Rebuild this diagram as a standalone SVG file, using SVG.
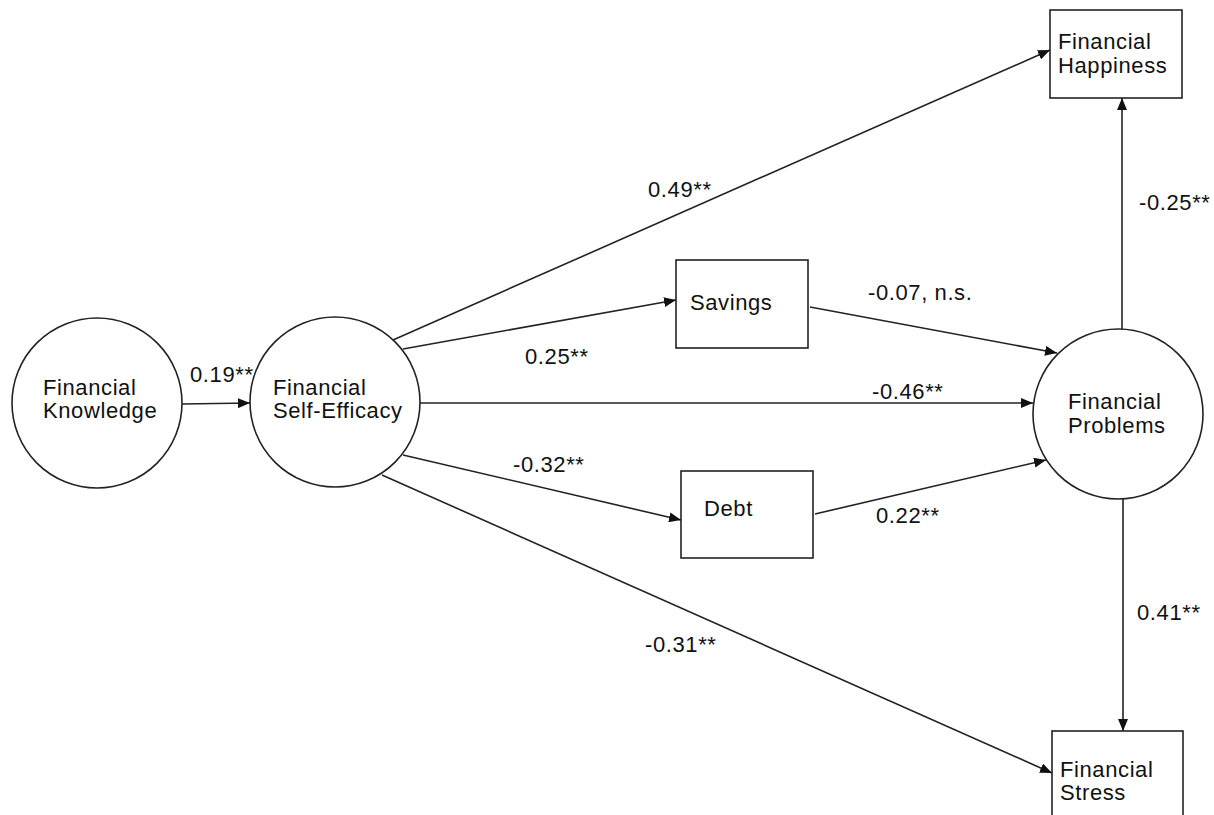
<svg xmlns="http://www.w3.org/2000/svg" width="1214" height="815" viewBox="0 0 1214 815">
<style>
.n{fill:#fff;stroke:#222;stroke-width:1.6}
.c{fill:none;stroke:#222;stroke-width:1.6;marker-end:url(#ah)}
text{font-family:"Liberation Sans",Arial,sans-serif;font-size:22px;fill:#111;letter-spacing:0.6px}
</style>
<defs>
<marker id="ah" markerUnits="userSpaceOnUse" markerWidth="14" markerHeight="10" refX="12" refY="5" orient="auto">
<path d="M0,0 L12,5 L0,10 Z" fill="#111"/>
</marker>
</defs>
<rect width="1214" height="815" fill="#fff"/>
<g id="connectors">
<line class="c" x1="182" y1="404" x2="250" y2="403"/>
<line class="c" x1="393" y1="340" x2="1050" y2="50"/>
<line class="c" x1="403" y1="349" x2="676" y2="300"/>
<line class="c" x1="810" y1="307" x2="1057" y2="353"/>
<line class="c" x1="420" y1="403" x2="1033" y2="403"/>
<line class="c" x1="403" y1="455" x2="681" y2="520"/>
<line class="c" x1="815" y1="514" x2="1046" y2="460"/>
<line class="c" x1="382" y1="475" x2="1052" y2="773"/>
<line class="c" x1="1122" y1="329" x2="1122" y2="98"/>
<line class="c" x1="1123" y1="499" x2="1123" y2="731"/>
</g>
<g id="labels">
<text x="190" y="382">0.19**</text>
<text x="648" y="197">0.49**</text>
<text x="525" y="364">0.25**</text>
<text x="868" y="300">-0.07, n.s.</text>
<text x="872" y="399">-0.46**</text>
<text x="513" y="472">-0.32**</text>
<text x="876" y="523">0.22**</text>
<text x="645" y="652">-0.31**</text>
<text x="1139" y="210">-0.25**</text>
<text x="1137" y="620">0.41**</text>
</g>
<g id="knowledge">
<circle class="n" cx="97" cy="403" r="85"/>
<text x="43" y="395">Financial</text>
<text x="43" y="418">Knowledge</text>
</g>
<g id="selfefficacy">
<circle class="n" cx="335" cy="402" r="85"/>
<text x="273" y="395">Financial</text>
<text x="273" y="418">Self-Efficacy</text>
</g>
<g id="savings">
<rect class="n" x="676" y="260" width="132" height="88"/>
<text x="690" y="310">Savings</text>
</g>
<g id="debt">
<rect class="n" x="681" y="471" width="132" height="87"/>
<text x="704" y="516">Debt</text>
</g>
<g id="problems">
<circle class="n" cx="1118" cy="414" r="85"/>
<text x="1068" y="409">Financial</text>
<text x="1068" y="433">Problems</text>
</g>
<g id="happiness">
<rect class="n" x="1050" y="10" width="132" height="88"/>
<text x="1058" y="49">Financial</text>
<text x="1058" y="73">Happiness</text>
</g>
<g id="stress">
<rect class="n" x="1052" y="731" width="131" height="100"/>
<text x="1060" y="777">Financial</text>
<text x="1060" y="800">Stress</text>
</g>
</svg>
